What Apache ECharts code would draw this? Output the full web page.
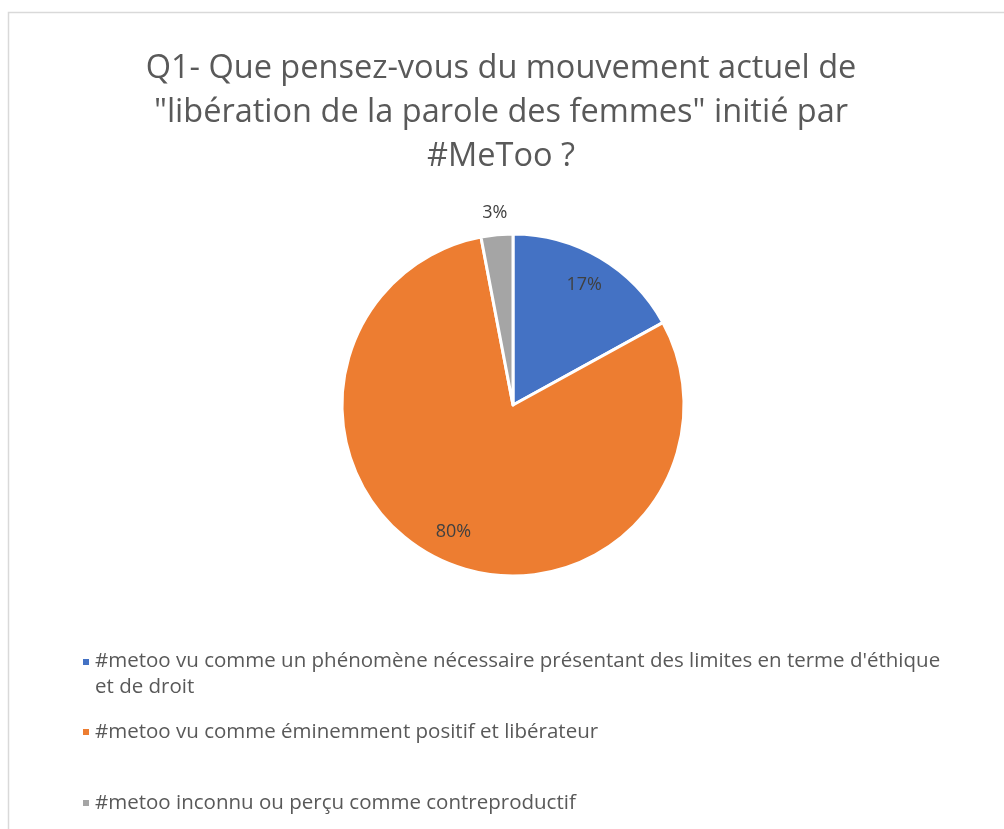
<!DOCTYPE html>
<html>
<head>
<meta charset="utf-8">
<script src="https://cdn.jsdelivr.net/npm/echarts@6/dist/echarts.min.js"></script>
<style>
  html, body { margin: 0; padding: 0; background: #fff; }
  #chart { width: 1004px; height: 829px; }
</style>
</head>
<body>
<div id="chart"></div>
<script>
const titleText = 'Q1- Que pensez-vous du mouvement actuel de\n"libération de la parole des femmes" initié par\n#MeToo ?'
const categories = [
  "#metoo vu comme un phénomène nécessaire présentant des limites en terme d'éthique et de droit",
  '#metoo vu comme éminemment positif et libérateur',
  '#metoo inconnu ou perçu comme contreproductif',
]
const shares = [17, 80, 3]
const colors = ['#4472C4', '#ED7D31', '#A5A5A5']

const font = '"Open Sans", Lato, sans-serif'
const chart = echarts.init(document.getElementById('chart'))

const pieData = categories.map((name, i) => ({
  name,
  value: shares[i],
  itemStyle: { color: colors[i] },
}))

// transparent rings only used to place the percent labels
const labelRing = (radius, showIdx) => ({
  type: 'pie',
  center: [513, 405],
  radius,
  startAngle: 90,
  silent: true,
  emphasis: { disabled: true },
  itemStyle: { color: 'transparent', borderWidth: 0 },
  labelLine: { show: false },
  data: categories.map((name, i) => ({
    name,
    value: shares[i],
    label: {
      show: showIdx.includes(i),
      position: 'inside',
      formatter: '{c}%',
      color: '#404040',
      fontSize: 18,
      fontFamily: font,
    },
  })),
})

// legend items are spaced unevenly, one legend per entry
const legendTops = [643, 714, 785]
// square pinned to the top of a taller box, so it sits beside the first text line
const topSquare = 'path://M0,0L8,0L8,8L0,8Z M0,32L8,32'

chart.setOption({
  animation: false,
  graphic: [
    {
      type: 'rect',
      shape: { x: 8.5, y: 12.5, width: 1010, height: 830 },
      style: { fill: 'none', stroke: '#d9d9d9', lineWidth: 1.5 },
    },
  ],
  title: {
    text: titleText,
    left: 496,
    top: 42,
    textAlign: 'center',
    textStyle: {
      color: '#595959',
      fontSize: 32.5,
      fontWeight: 'normal',
      fontFamily: font,
      lineHeight: 44,
    },
  },
  legend: categories.map((name, i) => ({
    data: [name],
    left: 76,
    top: legendTops[i],
    icon: i === 0 ? topSquare : 'rect',
    itemWidth: 8,
    itemHeight: i === 0 ? 32 : 8,
    itemGap: 0,
    textStyle: {
      color: '#595959',
      fontSize: 20.5,
      fontFamily: font,
      lineHeight: 26,
      width: 900,
      overflow: 'break',
    },
  })),
  series: [
    {
      type: 'pie',
      center: [513, 405],
      radius: 171,
      startAngle: 90,
      itemStyle: { borderColor: '#fff', borderWidth: 3 },
      label: { show: false },
      labelLine: { show: false },
      emphasis: { scale: false },
      data: pieData,
    },
    labelRing([103, 171], [0, 1]),
    labelRing([171, 209], [2]),
  ],
})
</script>
</body>
</html>
